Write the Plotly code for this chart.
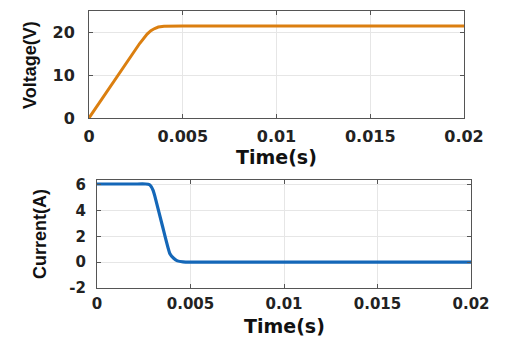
import plotly.graph_objects as go

# Capacitor charging: terminal voltage and charging current over 20 ms
t_v = [0, 0.0010, 0.0020, 0.0027, 0.0031, 0.0033, 0.0035, 0.0037, 0.0040, 0.0050, 0.0100, 0.0150, 0.0200]
voltage = [0, 6.4, 12.8, 17.4, 19.6, 20.4, 20.9, 21.25, 21.45, 21.5, 21.5, 21.5, 21.5]

t_i = [0, 0.0010, 0.0020, 0.0026, 0.0028, 0.0029, 0.0030, 0.0031, 0.0035, 0.0039, 0.0041, 0.0043, 0.0046, 0.0050, 0.0100, 0.0150, 0.0200]
current = [6.05, 6.05, 6.05, 6.05, 6.0, 5.85, 5.55, 5.07, 2.8, 0.65, 0.3, 0.1, 0.02, 0, 0, 0, 0]

time_ticks = [0, 0.005, 0.01, 0.015, 0.02]
time_labels = ["0", "0.005", "0.01", "0.015", "0.02"]
v_ticks = [0, 10, 20]
v_labels = ["0", "10", "20"]
i_ticks = [-2, 0, 2, 4, 6]
i_labels = ["-2", "0", "2", "4", "6"]

W, H = 508, 338
tick_font_top = dict(family="DejaVu Sans", size=16, color="#222222", weight="bold")
tick_font_bot = dict(family="DejaVu Sans", size=15, color="#222222", weight="bold")
frame = "#555555"
grid = "#E6E6E6"

fig = go.Figure()
fig.add_trace(go.Scatter(x=t_v, y=voltage, mode="lines", xaxis="x", yaxis="y",
                         line=dict(color="#DB7F10", width=3), showlegend=False))
fig.add_trace(go.Scatter(x=t_i, y=current, mode="lines", xaxis="x2", yaxis="y2",
                         line=dict(color="#1467B8", width=3.2, shape="spline", smoothing=0.5),
                         showlegend=False))

def axis_common(font):
    return dict(showline=True, linecolor=frame, linewidth=1, mirror="ticks",
                ticks="inside", ticklen=4, tickcolor=frame, tickwidth=1,
                showgrid=True, gridcolor=grid, gridwidth=1, zeroline=False,
                tickfont=font, automargin=False)

fig.update_layout(
    width=W, height=H,
    margin=dict(l=0, r=0, t=0, b=0),
    paper_bgcolor="white", plot_bgcolor="white",
    xaxis=dict(domain=[89 / W, 464 / W], anchor="y", range=[0, 0.02],
               tickvals=time_ticks, ticktext=time_labels, ticklabelstandoff=4,
               **axis_common(tick_font_top)),
    yaxis=dict(domain=[1 - 118 / H, 1 - 11 / H], anchor="x", range=[0, 25],
               tickvals=v_ticks, ticktext=v_labels, ticklabelstandoff=10,
               **axis_common(tick_font_top)),
    xaxis2=dict(domain=[97 / W, 471 / W], anchor="y2", range=[0, 0.02],
                tickvals=time_ticks, ticktext=time_labels, ticklabelstandoff=2,
                **axis_common(tick_font_bot)),
    yaxis2=dict(domain=[1 - 288 / H, 1 - 180 / H], anchor="x2", range=[-2, 6.36],
                tickvals=i_ticks, ticktext=i_labels, ticklabelstandoff=7,
                **axis_common(tick_font_bot)),
)

title_x = dict(family="DejaVu Sans", size=19, color="#111111", weight="bold")
title_y = dict(family="Liberation Sans", size=18, color="#111111", weight="bold")

fig.add_annotation(text="Time(s)", x=276 / W, y=1 - 157 / H, xref="paper", yref="paper",
                   showarrow=False, font=title_x, xanchor="center", yanchor="middle")
fig.add_annotation(text="Time(s)", x=284 / W, y=1 - 326 / H, xref="paper", yref="paper",
                   showarrow=False, font=title_x, xanchor="center", yanchor="middle")
fig.add_annotation(text="Voltage(V)", x=30 / W, y=1 - 65 / H, xref="paper", yref="paper",
                   showarrow=False, font=title_y, textangle=-90, xanchor="center", yanchor="middle")
fig.add_annotation(text="Current(A)", x=40 / W, y=1 - 234 / H, xref="paper", yref="paper",
                   showarrow=False, font=title_y, textangle=-90, xanchor="center", yanchor="middle")

fig.write_html("out.html")
